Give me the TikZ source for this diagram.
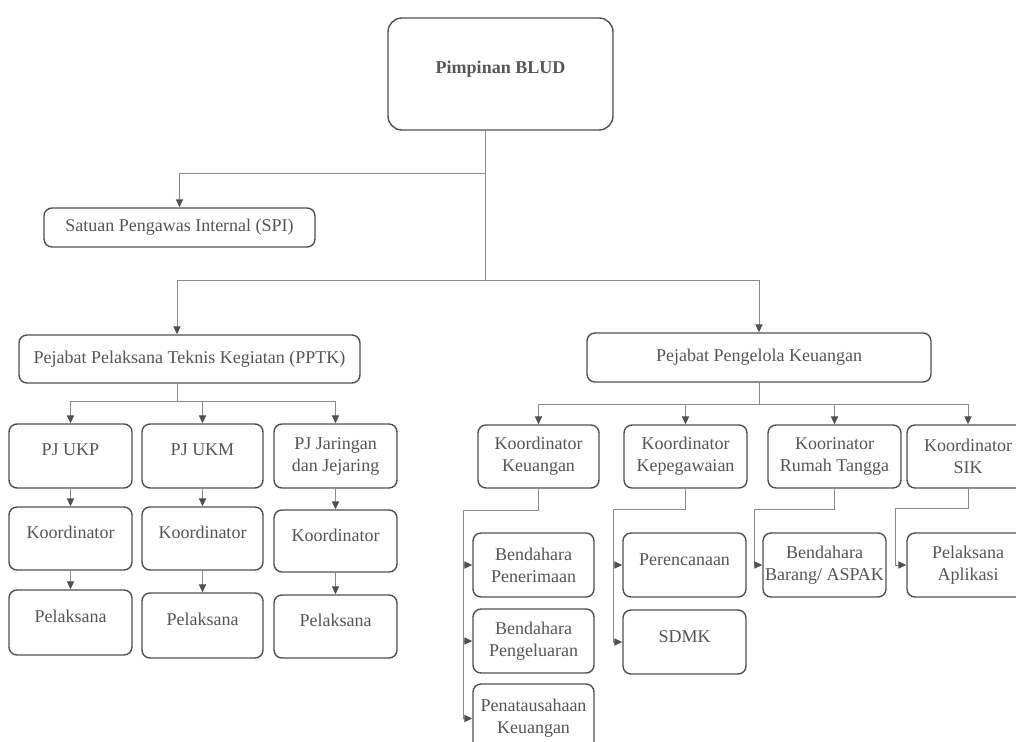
\documentclass[tikz,border=0pt]{standalone}
\usepackage{fontspec}
\setmainfont{Liberation Serif}
\usetikzlibrary{arrows.meta}
\definecolor{boxgray}{HTML}{505050}
\definecolor{inkgray}{HTML}{555555}
\definecolor{linkgray}{HTML}{8A8A8A}

\begin{document}
\begin{tikzpicture}[x=0.5pt,y=-0.5pt,>={Triangle[length=4pt,width=3.6pt,color=boxgray]},
    box/.style={draw=boxgray,line width=0.7pt,rounded corners=4pt,text=inkgray,
      font=\fontsize{9}{11}\selectfont,align=center,inner sep=1pt},
    raised/.style={text height=6.5pt,text depth=6.5pt},
    link/.style={draw=linkgray,line width=0.5pt}]

  \useasboundingbox (0,0) rectangle (1016,742);
  \clip (0,0) rectangle (1016,742);

  % top levels
  \node[box,raised,rounded corners=7pt,minimum width=112.5pt,minimum height=56pt,
    font=\fontsize{9}{11}\selectfont\bfseries] (top) at (500.5,74) {Pimpinan BLUD};
  \node[box,minimum width=135.5pt,minimum height=19.5pt] (spi) at (179.5,227.5)
    {Satuan Pengawas Internal (SPI)};
  \node[box,minimum width=170.5pt,minimum height=24pt] (pptk) at (189.5,359)
    {Pejabat Pelaksana Teknis Kegiatan (PPTK)};
  \node[box,minimum width=172pt,minimum height=24.5pt] (ppk) at (759,357.5)
    {Pejabat Pengelola Keuangan};

  % PPTK branch
  \node[box,raised,minimum width=61.5pt,minimum height=32pt] (ukp) at (70.5,456) {PJ UKP};
  \node[box,raised,minimum width=60.5pt,minimum height=32pt] (ukm) at (202.5,456) {PJ UKM};
  \node[box,minimum width=61.5pt,minimum height=32pt] (jar) at (335.5,456) {PJ Jaringan\\dan Jejaring};
  \node[box,raised,minimum width=61.5pt,minimum height=31.5pt] (kA) at (70.5,538.5) {Koordinator};
  \node[box,raised,minimum width=60.5pt,minimum height=31.5pt] (kB) at (202.5,538.5) {Koordinator};
  \node[box,raised,minimum width=61.5pt,minimum height=31pt] (kC) at (335.5,541) {Koordinator};
  \node[box,raised,minimum width=61.5pt,minimum height=32.5pt] (pA) at (70.5,622.5) {Pelaksana};
  \node[box,raised,minimum width=60.5pt,minimum height=32.5pt] (pB) at (202.5,625.5) {Pelaksana};
  \node[box,raised,minimum width=61.5pt,minimum height=31.5pt] (pC) at (335.5,626.5) {Pelaksana};

  % PPK branch
  \node[box,minimum width=60.5pt,minimum height=31.5pt] (kk) at (538.5,456.5) {Koordinator\\Keuangan};
  \node[box,minimum width=61.5pt,minimum height=31.5pt] (kp) at (685.5,456.5) {Koordinator\\Kepegawaian};
  \node[box,minimum width=66.5pt,minimum height=31.5pt] (rt) at (834.5,456.5) {Koorinator\\Rumah Tangga};
  \node[box,minimum width=61pt,minimum height=31.5pt] (sik) at (968,456.5) {Koordinator\\SIK};

  \node[box,minimum width=60.5pt,minimum height=32pt] (bp) at (533.5,565) {Bendahara\\Penerimaan};
  \node[box,minimum width=60.5pt,minimum height=32pt] (bpg) at (533.5,641) {Bendahara\\Pengeluaran};
  \node[box,minimum width=60.5pt,minimum height=34.5pt] (pk) at (533.5,718.5) {Penatausahaan\\Keuangan};
  \node[box,raised,minimum width=61.5pt,minimum height=32pt] (per) at (684.5,565) {Perencanaan};
  \node[box,raised,minimum width=61.5pt,minimum height=32pt] (sdmk) at (684.5,642) {SDMK};
  \node[box,inner sep=0.3pt,minimum width=61.5pt,minimum height=32pt] (bb) at (824.5,565) {Bendahara\\Barang/ ASPAK};
  \node[box,minimum width=61pt,minimum height=32pt] (pa) at (968,565) {Pelaksana\\Aplikasi};

  % junctions
  \coordinate (j1) at (485,174);
  \coordinate (j2) at (485,281);
  \coordinate (pb) at (177,402);
  \coordinate (kb) at (759,405);
  \coordinate (b1) at (463,510);
  \coordinate (b2) at (613,509);
  \coordinate (b3) at (754,509);
  \coordinate (b4) at (895,508);

  % connectors
  \draw[link] (top.south -| j1) -- (j2);
  \draw[link,->] (j1) -| (spi.north);
  \draw[link,->] (j2) -| (pb |- pptk.north);
  \draw[link,->] (j2) -| (ppk.north);

  \draw[link] (pb |- pptk.south) -- (pb);
  \draw[link,->] (pb) -| (ukp.north);
  \draw[link,->] (pb) -| (ukm.north);
  \draw[link,->] (pb) -| (jar.north);
  \draw[link,->] (ukp) -- (kA);
  \draw[link,->] (ukm) -- (kB);
  \draw[link,->] (jar) -- (kC);
  \draw[link,->] (kA) -- (pA);
  \draw[link,->] (kB) -- (pB);
  \draw[link,->] (kC) -- (pC);

  \draw[link] (ppk.south) -- (kb);
  \draw[link,->] (kb) -| (kk.north);
  \draw[link,->] (kb) -| (kp.north);
  \draw[link,->] (kb) -| (rt.north);
  \draw[link,->] (kb) -| (sik.north);

  \draw[link] (kk.south) |- (b1);
  \draw[link,->] (b1) |- (bp.west);
  \draw[link,->] (b1) |- (bpg.west);
  \draw[link,->] (b1) |- (pk.west);
  \draw[link] (kp.south) |- (b2);
  \draw[link,->] (b2) |- (per.west);
  \draw[link,->] (b2) |- (sdmk.west);
  \draw[link] (rt.south) |- (b3);
  \draw[link,->] (b3) |- (bb.west);
  \draw[link] (sik.south) |- (b4);
  \draw[link,->] (b4) |- (pa.west);
\end{tikzpicture}
\end{document}
